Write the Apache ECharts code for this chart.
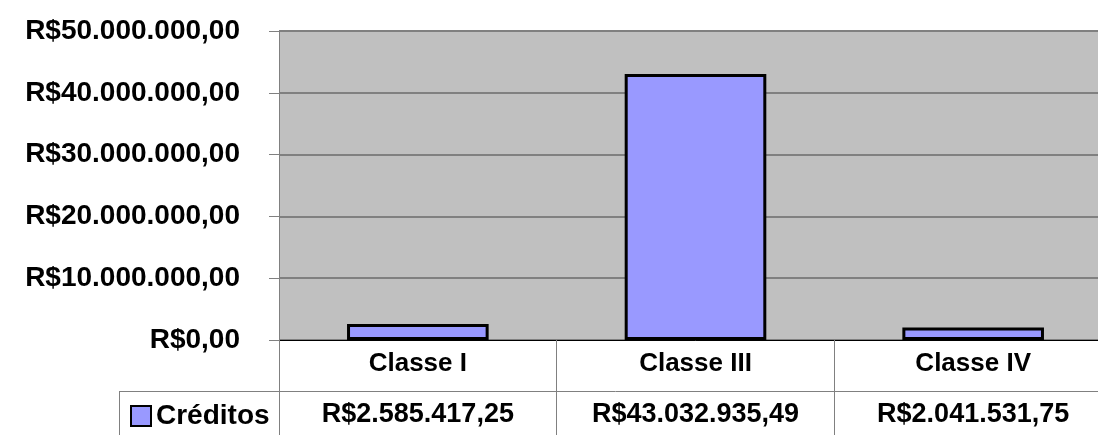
<!DOCTYPE html>
<html><head><meta charset="utf-8">
<script src="https://cdn.jsdelivr.net/npm/echarts@6/dist/echarts.min.js"></script>
<style>html,body{margin:0;padding:0;background:#fff;overflow:hidden;width:1098px;height:435px}#c{width:1112px;height:435px}</style>
</head><body><div id="c"></div>
<script>
const categories = ['Classe I', 'Classe III', 'Classe IV'];
const seriesName = 'Créditos';
const values = [2585417.25, 43032935.49, 2041531.75];
const yTicks = [0, 10000000, 20000000, 30000000, 40000000, 50000000];

function brl(v) {
  const fixed = Math.abs(v).toFixed(2);
  let [int, dec] = fixed.split('.');
  int = int.replace(/\B(?=(\d{3})+(?!\d))/g, '.');
  return 'R$' + int + ',' + dec;
}
const FONT = '"Liberation Sans", Arial, sans-serif';
const chart = echarts.init(document.getElementById('c'));
chart.setOption({
  animation: false,
  grid: { left: 279, right: 0, top: 31, bottom: 95, show: true, backgroundColor: '#C0C0C0', borderWidth: 0 },
  legend: {
    left: 130, top: 402, padding: 0, itemWidth: 20, itemHeight: 20, itemGap: 4,
    icon: 'rect',
    data: [seriesName],
    itemStyle: { borderWidth: 2, borderColor: '#000' },
    textStyle: { fontFamily: FONT, fontWeight: 'bold', fontSize: 28, color: '#000' }
  },
  xAxis: [{
    type: 'category', data: categories,
    axisLine: { lineStyle: { color: '#000', width: 1 } },
    axisTick: { show: true, length: 95, lineStyle: { color: '#808080', width: 1 } },
    axisLabel: { interval: 0, fontFamily: FONT, fontWeight: 'bold', fontSize: 26, color: '#000', margin: 11 }
  }, {
    type: 'category', data: values.map(brl), position: 'bottom', offset: 51,
    axisLine: { show: false }, axisTick: { show: false },
    axisLabel: { interval: 0, fontFamily: FONT, fontWeight: 'bold', fontSize: 27, color: '#000', margin: 10 }
  }],
  yAxis: {
    type: 'value', min: yTicks[0], max: yTicks[yTicks.length - 1], interval: yTicks[1] - yTicks[0],
    axisLine: { show: true, lineStyle: { color: '#808080', width: 1 } },
    axisTick: { show: true, length: 10, lineStyle: { color: '#808080' } },
    splitLine: { lineStyle: { color: '#808080', width: 2 } },
    axisLabel: { formatter: brl, fontFamily: FONT, fontWeight: 'bold', fontSize: 28, color: '#000', margin: 39 }
  },
  graphic: [
    { type: 'line', shape: { x1: 119, y1: 391.5, x2: 1112, y2: 391.5 }, style: { stroke: '#808080', lineWidth: 1 } },
    { type: 'line', shape: { x1: 119.5, y1: 391, x2: 119.5, y2: 435 }, style: { stroke: '#808080', lineWidth: 1 } },
    { type: 'line', shape: { x1: 279.5, y1: 340, x2: 279.5, y2: 435 }, style: { stroke: '#808080', lineWidth: 1 } }
  ],
  series: [{
    name: seriesName, type: 'bar', data: values, xAxisIndex: 0, barWidth: '51%',
    itemStyle: { color: '#9999FF', borderColor: '#000', borderWidth: 3 }
  }]
});
</script></body></html>
